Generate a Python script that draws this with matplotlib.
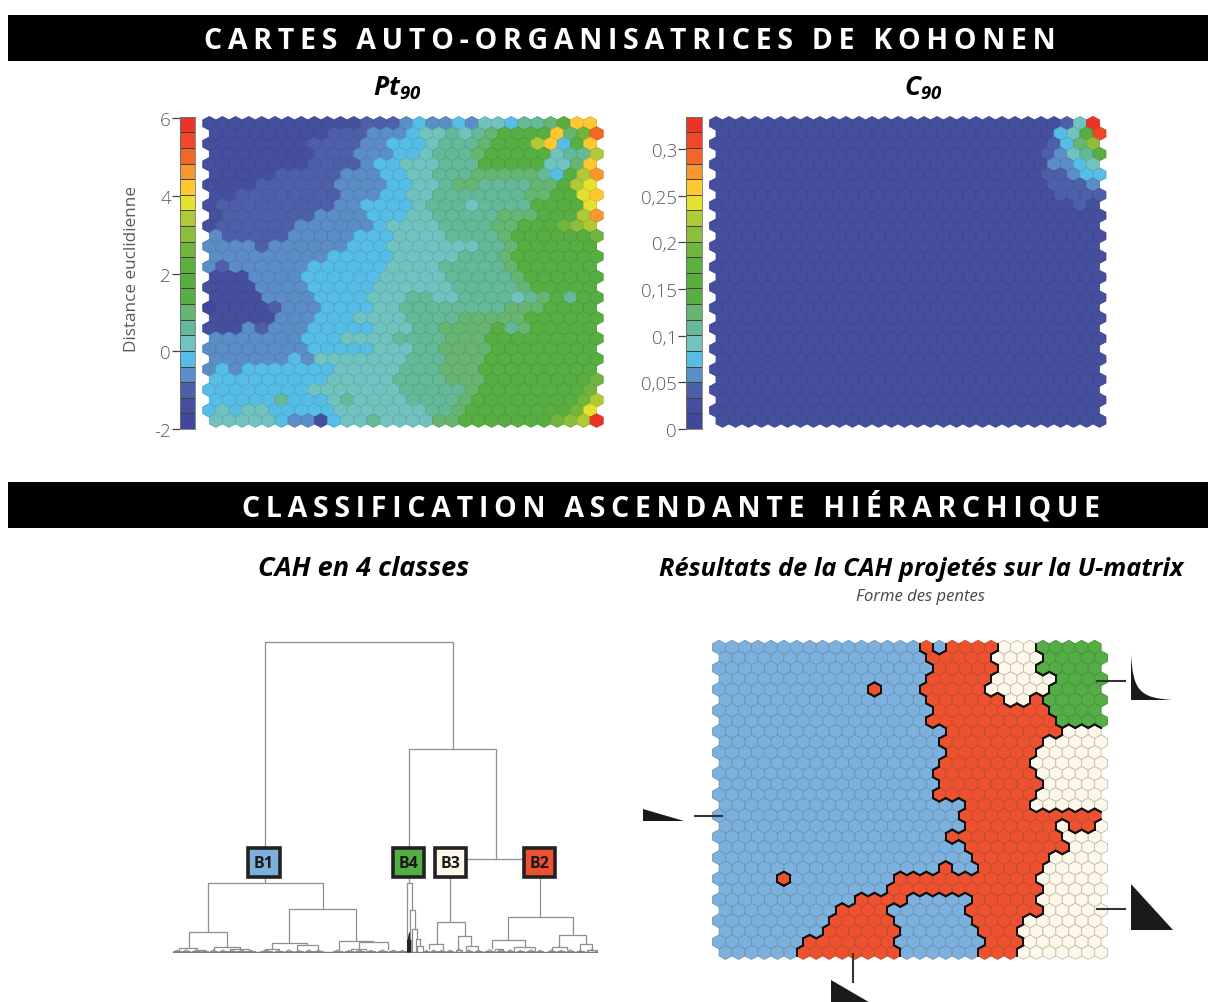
import numpy as np
import matplotlib
matplotlib.use("Agg")
import matplotlib.pyplot as plt
from matplotlib.collections import PolyCollection, LineCollection
from matplotlib.colors import ListedColormap, to_rgb
from matplotlib.patches import Rectangle, Polygon, PathPatch
from matplotlib.path import Path

W, H = 1208, 1003
FONT = ['Open Sans', 'DejaVu Sans']
plt.rcParams['font.family'] = FONT
plt.rcParams['mathtext.fontset'] = 'custom'
plt.rcParams['mathtext.it'] = 'Open Sans:italic:bold'
plt.rcParams['mathtext.rm'] = 'Open Sans:italic:bold'
plt.rcParams['mathtext.bf'] = 'Open Sans:italic:bold'

# ---------- data ----------
level_colors = ['#40489b', '#454f9e', '#4d5fa8', '#5b8dc6', '#56bde6', '#70c3be', '#63b998',
                '#66b672', '#57ae42', '#57ae3e', '#5cb03e', '#70b63e', '#8cbd3b', '#b0c936',
                '#e3e22e', '#fdc832', '#f8972e', '#f26628', '#ef4729', '#ec3327']

pt90 = [
 [1,1,1,1,1,1,1,1,1,1,1,1,2,2,2,3,4,3,3,4,3,5,5,4,6,6,7,9,15,15],
 [1,1,1,1,1,1,1,1,1,2,2,2,3,3,3,4,5,5,6,5,6,7,8,8,8,8,15,7,11,17],
 [1,1,1,1,1,1,1,1,2,2,2,2,3,3,4,4,4,5,6,6,6,7,8,8,8,13,15,4,8,15],
 [1,1,1,1,1,1,1,1,2,2,2,3,3,3,4,4,5,6,6,6,7,8,8,8,8,8,5,6,6,13],
 [1,1,1,1,1,1,1,1,2,2,2,2,3,4,4,5,5,5,6,6,6,8,8,8,8,8,5,5,7,15],
 [1,1,1,1,1,2,2,2,2,2,3,3,3,4,4,5,5,6,6,6,7,7,7,7,7,6,4,8,13,16],
 [1,1,1,1,2,2,2,2,2,2,3,3,3,3,4,4,5,5,6,7,7,6,6,6,6,7,7,9,13,14],
 [1,1,2,2,2,2,2,2,2,2,3,3,3,4,4,5,5,6,6,6,6,6,6,6,7,7,8,9,14,15],
 [1,2,2,2,2,2,2,2,2,2,3,3,4,4,4,4,5,6,6,6,5,6,6,6,6,8,8,8,9,14],
 [1,2,2,2,2,2,2,2,3,3,3,3,4,4,4,5,5,6,6,6,6,6,7,7,7,8,8,8,13,16],
 [1,2,2,2,2,2,2,3,3,3,3,3,3,4,5,5,5,5,6,6,6,6,7,7,8,8,8,11,12,13],
 [3,2,2,2,2,2,3,3,3,3,3,4,4,4,5,5,5,5,6,6,6,6,7,8,8,8,8,8,9,11],
 [3,3,3,3,2,3,3,3,3,3,3,4,4,4,5,5,5,5,5,5,5,6,6,7,8,8,8,8,8,9],
 [3,3,3,3,3,3,3,3,3,4,4,4,4,4,5,5,5,5,5,6,6,6,7,8,8,8,8,8,8,8],
 [3,2,3,3,3,3,3,3,4,4,4,4,4,4,5,5,5,5,6,6,6,6,6,7,8,8,8,8,8,8],
 [1,1,1,3,3,3,3,4,4,4,4,4,4,5,5,5,5,5,6,6,6,6,6,7,8,8,8,8,8,8],
 [1,1,1,1,3,3,3,3,4,4,4,4,4,5,5,5,5,5,5,6,6,6,6,6,7,8,8,8,8,8],
 [1,1,1,1,3,3,3,3,4,4,4,4,5,5,5,6,6,5,5,6,6,6,6,5,6,7,8,6,8,8],
 [0,1,1,1,1,2,3,3,3,4,4,4,4,5,5,6,6,6,6,6,6,6,6,7,7,7,8,8,8,8],
 [1,1,1,1,1,3,3,3,4,4,4,5,5,5,5,6,6,6,6,7,7,7,7,7,8,8,8,8,8,8],
 [1,1,1,3,2,3,3,3,4,4,4,4,4,5,5,5,6,6,7,7,7,7,8,6,7,8,8,8,8,8],
 [3,3,3,3,3,3,3,4,4,4,5,5,5,5,6,6,6,6,7,7,7,8,8,8,8,8,8,8,8,8],
 [3,3,3,3,3,3,3,3,4,4,4,4,4,5,5,5,6,6,7,7,7,7,8,8,8,8,8,8,8,8],
 [3,3,3,3,3,3,4,3,5,5,5,5,5,5,5,6,6,6,7,7,7,8,8,8,8,8,8,8,8,8],
 [3,4,3,4,4,4,4,4,4,4,5,5,5,5,5,6,6,6,7,7,7,8,8,8,8,8,8,8,8,8],
 [4,4,4,4,4,4,4,4,4,5,5,5,5,5,6,6,6,6,7,7,7,8,8,8,8,8,8,8,8,11],
 [4,4,4,4,4,4,4,4,5,5,5,5,5,5,5,6,6,6,6,6,7,8,8,8,8,8,8,8,8,11],
 [4,4,4,4,4,6,4,4,4,5,6,5,5,5,5,6,6,6,6,7,8,8,8,8,8,8,8,8,11,13],
 [4,5,4,5,5,4,4,4,4,4,5,5,5,5,5,5,5,6,6,7,8,8,8,8,8,8,8,9,11,14],
 [5,5,5,5,5,4,3,3,1,4,5,5,6,5,5,5,5,7,7,8,8,8,8,8,8,9,11,12,13,19],
]

c90 = [
 [1]*27 + [2,5,19],
 [1]*26 + [4,5,8,18],
 [1]*26 + [2,4,7,12],
 [1]*25 + [2,3,5,6,8],
 [1]*26 + [3,3,4,5],
 [1]*25 + [2,2,3,4,4],
 [1]*26 + [2,2,2,3],
 [1]*26 + [2,2,2,2],
 [1]*28 + [2,1],
] + [[1]*30 for _ in range(21)]

# class of each hexagon, row by row, as runs (class letter + count)
cah_runs = [
 "B16 R1 B1 R4 C3 G5", "B16 R5 C4 G5", "B17 R5 C3 G5", "B16 R5 C5 G4", "B12 R1 B3 R5 C5 G4",
 "B16 R6 C2 R1 G5", "B17 R9 G4", "B16 R10 G4", "B18 R9 C3", "B17 R8 C5",
 "B18 R7 C5", "B17 R7 C6", "B17 R8 C5", "B17 R8 C5", "B17 R8 C5",
 "B19 R5 C6", "B19 R11", "B19 R7 C1 R2 C1", "B18 R9 C3", "B19 R8 C3",
 "B20 R6 C4", "B17 R1 B2 R5 C5", "B5 R1 B8 R11 C5", "B13 R12 C5", "B11 R4 B5 R5 C5",
 "B9 R4 B6 R6 C5", "B9 R5 B6 R4 C6", "B8 R6 B6 R3 C7", "B7 R7 B7 R3 C6", "B6 R8 B6 R3 C7",
]
class_fill = {'B': '#7cb1dd', 'R': '#ee5130', 'C': '#fdf8ea', 'G': '#55ad45'}
class_edge = {'B': '#6a94b8', 'R': '#c24a2d', 'C': '#c4bdae', 'G': '#46933c'}

cb_ticks_pt = [-2, 0, 2, 4, 6]
cb_labels_pt = ['-2', '0', '2', '4', '6']
cb_ticks_c = [0, 0.05, 0.1, 0.15, 0.2, 0.25, 0.3]
cb_labels_c = ['0', '0,05', '0,1', '0,15', '0,2', '0,25', '0,3']

# dendrogram links: x left, x right, merge height, left child height, right child height
links = [
 (316,878,930,207,609), (748,1007,609,207,280), (870,1140,280,92,105),
 (145,489,207,62,130), (388,589,130,29,35), (87,201,62,12,15),
 (336,442,29,10,22), (410,473,22,8,8), (537,640,35,8,32), (597,683,32,8,8),
 (741,756,207,0,127), (749,764,127,0,71), (755,772,71,0,40), (767,780,40,0,20),
 (743,748,55,0,0), (745,752,38,0,0), (770,788,20,0,0),
 (830,914,92,25,48), (806,850,25,10,8), (895,933,48,5,18), (918,955,18,5,8),
 (1045,1238,105,38,52), (995,1095,38,10,15), (1198,1277,52,15,25),
 (1062,1125,15,5,5), (1175,1222,15,5,8), (1260,1296,25,5,5),
 (56,110,12,4,4), (112,134,8,2,2), (163,240,15,5,10), (210,268,10,3,3),
 (315,356,10,3,3), (574,618,10,3,3), (1006,1030,10,3,3),
]
tiny_links = [
 (40,62,4),(66,90,5),(96,120,4),(125,145,3),(150,172,5),(178,200,4),(205,228,5),(232,258,4),
 (262,285,3),(300,336,4),(345,368,3),(375,398,5),(405,428,3),(435,458,5),(462,490,4),(520,545,5),
 (555,578,3),(585,612,4),(620,645,3),(655,680,5),(688,712,4),(715,738,3),(792,806,3),(812,830,4),
 (834,856,3),(860,880,4),(888,906,8),(918,936,5),(945,965,4),(975,1002,5),(1010,1034,4),(1040,1062,5),
 (1070,1092,3),(1100,1126,5),(1130,1150,3),(1165,1186,5),(1192,1214,3),(1220,1242,5),(1250,1272,3),(1280,1312,6),
]
class_boxes = [('B1', 312, '#7cb1dd'), ('B4', 746, '#55ad45'), ('B3', 872, '#fdf8ea'), ('B2', 1138, '#ee5130')]

# ---------- helpers ----------
fig = plt.figure(figsize=(W/100, H/100), dpi=100, facecolor='white')

def axes_px(x0, y0, x1, y1, **kw):
    return fig.add_axes([x0/W, 1-y1/H, (x1-x0)/W, (y1-y0)/H], **kw)

def hex_verts(r, c):
    cx, cy = c + 0.5*(r % 2), r
    return [(cx, cy-2/3), (cx+0.5, cy-1/3), (cx+0.5, cy+1/3),
            (cx, cy+2/3), (cx-0.5, cy+1/3), (cx-0.5, cy-1/3)]

def map_axes(x0, dx, y0, dy):
    ax = axes_px(x0-dx, y0-dy, x0+30.5*dx, y0+30*dy)
    ax.set_xlim(-1, 30.5)
    ax.set_ylim(30, -1)
    ax.axis('off')
    return ax

def darker(col, f=0.8):
    return tuple(v*f for v in to_rgb(col))

def draw_level_map(ax, grid):
    verts, fc, ec = [], [], []
    for r, row in enumerate(grid):
        for c, v in enumerate(row):
            verts.append(hex_verts(r, c))
            fc.append(level_colors[v])
            ec.append(darker(level_colors[v], 0.88))
    ax.add_collection(PolyCollection(verts, facecolors=fc, edgecolors=ec, linewidths=0.55))

def draw_colorbar(x0, x1, vmax, ticks, labels):
    ax = axes_px(x0, 117.7, x1, 430)
    edges = np.linspace(0, vmax, 21) if ticks[0] == 0 else np.linspace(-2, vmax, 21)
    ax.pcolormesh([0, 1], edges, np.arange(20)[:, None], cmap=ListedColormap(level_colors),
                  edgecolors='#3f3f3f', linewidth=0.5)
    ax.set_ylim(edges[0], edges[-1])
    ax.set_xticks([])
    ax.set_yticks(ticks, labels, fontsize=13.5, color='#5a5a5a', fontweight='light')
    ax.tick_params(axis='y', length=6, width=0.9, color='#444444', pad=0.5)
    for s in ax.spines.values():
        s.set_color('#777777')
        s.set_linewidth(0.6)
    return ax

# ---------- overlay: banners, text, icons ----------
ov = fig.add_axes([0, 0, 1, 1], zorder=5)
ov.set_xlim(0, W)
ov.set_ylim(H, 0)
ov.axis('off')
ov.patch.set_alpha(0)

def spaced(s):
    return '\u2009'.join(s)

for (y0, y1, xc, ybase, txt) in [(16, 61.7, 630, 49.3, 'CARTES AUTO-ORGANISATRICES DE KOHONEN'),
                                 (483, 528.7, 671, 516.3, 'CLASSIFICATION ASCENDANTE HIÉRARCHIQUE')]:
    ov.add_patch(Rectangle((8, y0), W-8, y1-y0, fc='black', ec='none'))
    ov.text(xc, ybase, spaced(txt), color='white', fontsize=20.5, fontweight='bold',
            ha='center', va='baseline', family=FONT)

ov.text(397, 88, r'$Pt_{90}$', fontsize=19, ha='center', va='center', color='black')
ov.text(923, 88, r'$C_{90}$', fontsize=19, ha='center', va='center', color='black')
ov.text(364, 569, 'CAH en 4 classes', fontsize=19.5, fontweight='bold', fontstyle='italic', ha='center', va='center')
ov.text(921, 569, 'Résultats de la CAH projetés sur la U-matrix', fontsize=18.3, fontweight='bold',
        fontstyle='italic', ha='center', va='center')
ov.text(920, 597, 'Forme des pentes', fontsize=12, fontstyle='italic', ha='center', va='center', color='#444444')
ov.text(132, 269, 'Distance euclidienne', fontsize=12.3, rotation=90, ha='center', va='center', color='#5a5a5a')

# slope icons with their leader lines
ink = '#1a1a1a'
for seg in [((694.5, 816.7), (721.5, 816.7)), ((1097, 681.7), (1124.5, 681.7)),
            ((1097, 910), (1124.5, 910)), ((853.4, 955), (853.4, 982.7))]:
    ov.plot(*zip(*seg), color='#333333', lw=1.5)
ov.add_patch(Polygon([(642.5, 810), (642.5, 821.7), (684, 821.7)], fc=ink, ec='none'))
ov.add_patch(Polygon([(1131, 884.5), (1131, 931), (1173, 931)], fc=ink, ec='none'))
ov.add_patch(Polygon([(830.5, 981), (830.5, 1030), (915, 1030)], fc=ink, ec='none', clip_on=True))
ov.add_patch(PathPatch(Path([(1131, 655), (1133, 692), (1140, 699), (1173, 701), (1131, 701), (1131, 655)],
                            [Path.MOVETO, Path.CURVE4, Path.CURVE4, Path.CURVE4, Path.LINETO, Path.CLOSEPOLY]),
                       fc=ink, ec='none'))

# ---------- Kohonen maps ----------
ax_pt = map_axes(209.3, 13.13, 124.3, 10.25)
draw_level_map(ax_pt, pt90)
ax_c = map_axes(716.0, 13.0, 124.3, 10.25)
draw_level_map(ax_c, c90)
draw_colorbar(180, 195.3, 6.04, cb_ticks_pt, cb_labels_pt)
draw_colorbar(686, 701.7, 0.3346, cb_ticks_c, cb_labels_c)

# ---------- CAH projected on the U-matrix ----------
classes = []
for line in cah_runs:
    row = []
    for tok in line.split():
        row += [tok[0]] * int(tok[1:])
    assert len(row) == 30, line
    classes.append(row)

ax_u = map_axes(719.1, 12.95, 648.3, 10.52)
verts = [hex_verts(r, c) for r in range(30) for c in range(30)]
fc = [class_fill[classes[r][c]] for r in range(30) for c in range(30)]
ec = [class_edge[classes[r][c]] for r in range(30) for c in range(30)]
ax_u.add_collection(PolyCollection(verts, facecolors=fc, edgecolors=ec, linewidths=0.6))

def neighbours(r, c):
    o = r % 2
    # neighbour across each hexagon edge, in vertex order
    return [(r-1, c+o), (r, c+1), (r+1, c+o), (r+1, c+o-1), (r, c-1), (r-1, c+o-1)]

borders = []
for r in range(30):
    for c in range(30):
        v = hex_verts(r, c)
        for k, (nr, nc) in enumerate(neighbours(r, c)):
            if 0 <= nr < 30 and 0 <= nc < 30 and classes[nr][nc] != classes[r][c]:
                borders.append([v[k], v[(k+1) % 6]])
ax_u.add_collection(LineCollection(borders, colors='#111111', linewidths=1.4, capstyle='round'))

# ---------- dendrogram ----------
ax_d = axes_px(160, 630, 610, 630+973/3)
ax_d.set_xlim(0, 1350)
ax_d.set_ylim(-3, 970)
ax_d.axis('off')
dend = []
for x1, x2, top, h1, h2 in links:
    dend.append([(x1, h1), (x1, top), (x2, top), (x2, h2)])
ax_d.add_collection(LineCollection(dend, colors='#8f8f8f', linewidths=0.9))
tiny = []
for x1, x2, top in tiny_links:
    tiny.append([(x1, 0), (x1, top), (x2, top), (x2, 0)])
    tiny.append([(x1, 0), ((x1+x2)/2, top+3), (x2, 0)])
ax_d.add_collection(LineCollection(tiny, colors='#8a8a8a', linewidths=0.7))
ax_d.plot([38, 1312], [0, 0], color='#7a7a7a', lw=1.0)
ax_d.add_collection(LineCollection([[(x, 0), (x, 40+(i % 3)*10)] for i, x in enumerate([742, 745, 748, 751])],
                                   colors='#222222', linewidths=0.7))
for name, xc, col in class_boxes:
    ax_d.add_patch(Rectangle((xc-47, 227), 94, 86, fc=col, ec='#222222', lw=2.6, zorder=4))
    ax_d.text(xc, 268, name, fontsize=11.5, fontweight='bold', ha='center', va='center', color='#1a1a1a', zorder=5)

fig.savefig('out.png', dpi=100)
